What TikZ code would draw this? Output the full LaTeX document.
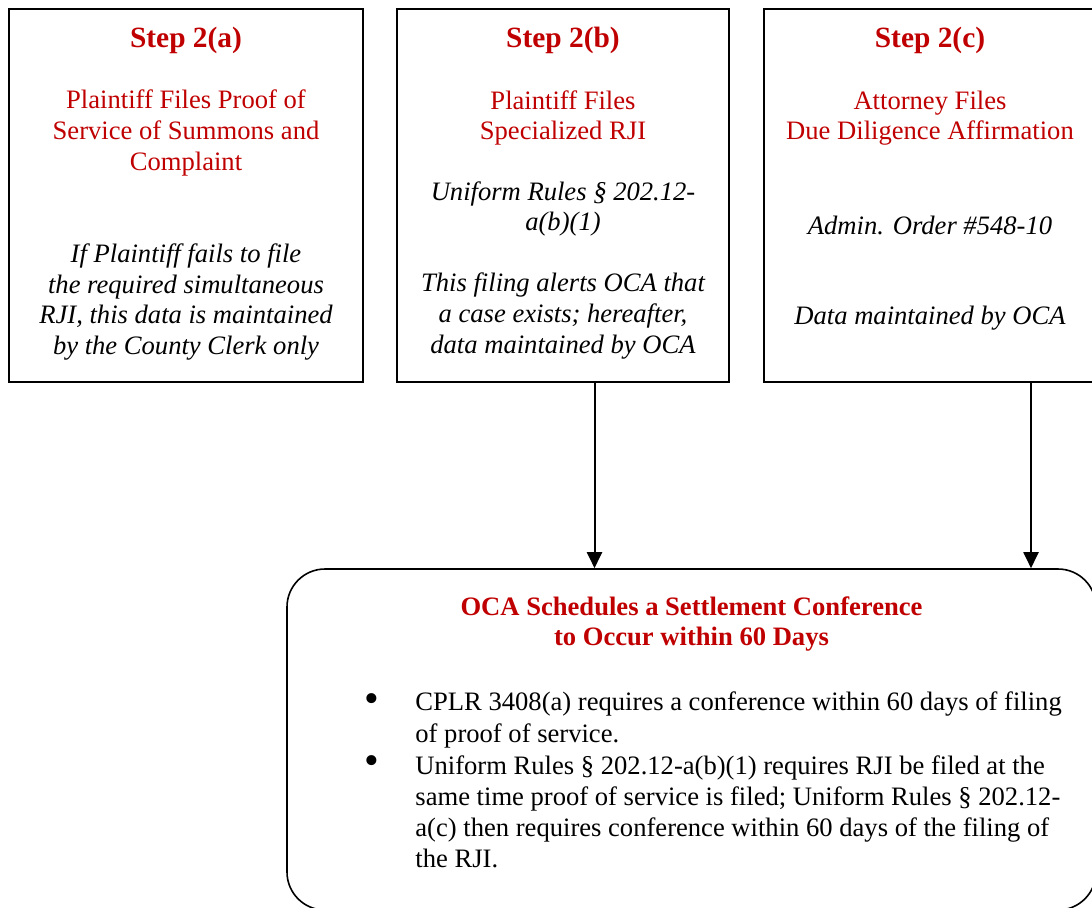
\documentclass[tikz,border=0pt]{standalone}
\usepackage{fontspec}
\setmainfont{Liberation Serif}
\usetikzlibrary{arrows.meta}
\definecolor{stepred}{RGB}{192,0,0}
\tikzset{
  stepbox/.style={draw=black, line width=1pt, minimum width=#1, minimum height=186.5pt, inner sep=0pt},
  headtxt/.style={text=stepred, font=\fontsize{14.7pt}{17pt}\selectfont\bfseries, inner sep=0pt},
  redtxt/.style={text=stepred, font=\fontsize{13.3pt}{15.3pt}\selectfont, align=center, inner sep=0pt},
  ittxt/.style={text=black, font=\fontsize{13.3pt}{15.3pt}\selectfont\itshape, align=center, inner sep=0pt},
  bodytxt/.style={text=black, font=\fontsize{13.3pt}{15.6pt}\selectfont, align=left, inner sep=0pt},
  bigtitle/.style={text=stepred, font=\fontsize{13.3pt}{15.3pt}\selectfont\bfseries, align=center, inner sep=0pt},
  bulletmark/.style={inner sep=0pt, font=\fontsize{21pt}{21pt}\selectfont},
  arr/.style={line width=1pt, -{Triangle[length=8pt,width=7.5pt]}},
}
\begin{document}
\begin{tikzpicture}[x=0.5pt, y=-0.5pt]
\clip (0,0) rectangle (1092,907);
\fill[white] (0,0) rectangle (1092,907);

% top boxes
\node[stepbox=177pt] (bA) at (186,195.5) {};
\node[stepbox=166pt] (bB) at (563,195.5) {};
\node[stepbox=166pt] (bC) at (930,195.5) {};

% box A texts
\node[headtxt] (hA) at (186,40) {Step 2(a)};
\node[redtxt] (rA) at (186,133) {Plaintiff Files Proof of\\Service of Summons and\\Complaint};
\node[ittxt] (iA) at (186,302) {If Plaintiff fails to file\\the required simultaneous\\RJI, this data is maintained\\by the County Clerk only};

% box B texts
\node[headtxt] (hB) at (563,40) {Step 2(b)};
\node[redtxt] (rB) at (563,118) {Plaintiff Files\\Specialized RJI};
\node[ittxt] (iB1) at (563,209) {Uniform Rules § 202.12-\\a(b)(1)};
\node[ittxt] (iB2) at (563,316) {This filing alerts OCA that\\a case exists; hereafter,\\data maintained by OCA};

% box C texts
\node[headtxt] (hC) at (930,40) {Step 2(c)};
\node[redtxt] (rC) at (930,118) {Attorney Files\\Due Diligence Affirmation};
\node[ittxt] (iC1) at (930,225) {Admin. Order \#548-10};
\node[ittxt] (iC2) at (930,318) {Data maintained by OCA};

% bottom box
\node[draw=black, line width=0.8pt, rounded corners=19pt, minimum width=404.5pt, minimum height=170.5pt, inner sep=0pt] (bot) at (691.5,739.5) {};
\node[bigtitle] (tBot) at (691.5,624) {OCA Schedules a Settlement Conference\\to Occur within 60 Days};
\node[bulletmark] (bul1) at (372,703) {\textbullet};
\node[bulletmark] (bul2) at (372,765) {\textbullet};
\node[bodytxt, anchor=west] (l1) at (415,720) {CPLR 3408(a) requires a conference within 60 days of filing\\of proof of service.};
\node[bodytxt, anchor=west] (l2) at (415,812) {Uniform Rules § 202.12-a(b)(1) requires RJI be filed at the\\same time proof of service is filed; Uniform Rules § 202.12-\\a(c) then requires conference within 60 days of the filing of\\the RJI.};

% connectors
\coordinate (xB) at (594.5,0);
\coordinate (xC) at (1031,0);
\draw[arr] (bB.south -| xB) -- (bot.north -| xB);
\draw[arr] (bC.south -| xC) -- (bot.north -| xC);
\end{tikzpicture}
\end{document}
